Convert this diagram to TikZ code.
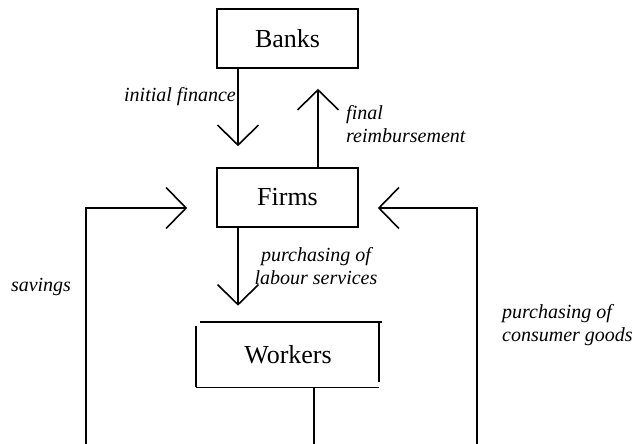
\documentclass[tikz,border=0pt]{standalone}
\usepackage{fontspec}
\setmainfont{Liberation Serif}
\usetikzlibrary{arrows.meta,calc}
\begin{document}
\begin{tikzpicture}[x=1pt,y=-1pt,
  box/.style={draw, line width=1.6pt, minimum width=141pt, minimum height=59pt, inner sep=0pt, font=\fontsize{26}{30}\selectfont},
  lbl/.style={inner sep=0pt, font=\fontsize{20}{23}\selectfont\itshape},
  flow/.style={line width=1.6pt, -{Straight Barb[length=20pt,width=41pt,line width=1.6pt]}},
  plainline/.style={line width=1.6pt}]
\useasboundingbox (0,0) rectangle (634,444);
\fill[white] (0,0) rectangle (634,444);
\node[box] (banks) at (287.5,38.5) {Banks};
\node[box] (firms) at (287.5,197.5) {Firms};
\node[box, draw=none, minimum width=182pt, minimum height=64pt] (workers) at (288,354.5) {Workers};
% slightly irregular outline of the Workers box
\draw[plainline] ([xshift=4pt]workers.north west) -- ([xshift=2pt]workers.north east);
\draw[plainline] ([yshift=-4pt]workers.north west) -- (workers.south west);
\draw[plainline] ([xshift=-1pt]workers.north east) -- ([xshift=-1pt,yshift=5pt]workers.south east);
\draw[plainline] (workers.south west) -- ([xshift=-1pt]workers.south east);
% free ends at the lower edge
\coordinate (sl) at (86,444);
\coordinate (sm) at (314,444);
\coordinate (sr) at (477,444);
% connectors
\draw[flow, shorten >=21pt] ([xshift=-49.5pt]banks.south) -- ([xshift=-49.5pt]firms.north);
\draw[flow, shorten >=20pt] ([xshift=30.5pt]firms.north) -- ([xshift=30.5pt]banks.south);
\draw[flow, shorten >=16pt] ([xshift=-49.5pt]firms.south) -- ([xshift=-49.5pt]firms.south |- workers.north);
\draw[flow, shorten >=29pt] (sl) |- ([yshift=-10.5pt]firms.west);
\draw[flow, shorten >=19pt] (sr) |- ([yshift=-10.5pt]firms.east);
\draw[plainline] (workers.south -| sm) -- (sm);
% labels
\node[lbl, anchor=east] (l1) at (236,97) {initial finance};
\node[lbl, anchor=west, align=left] (l2) at (346,124) {final\\reimbursement};
\node[lbl, align=center] (l3) at (316,266) {purchasing of\\labour services};
\node[lbl] (l4) at (41,287) {savings};
\node[lbl, anchor=west, align=left] (l5) at (502,325) {purchasing of\\consumer goods};
\end{tikzpicture}
\end{document}
